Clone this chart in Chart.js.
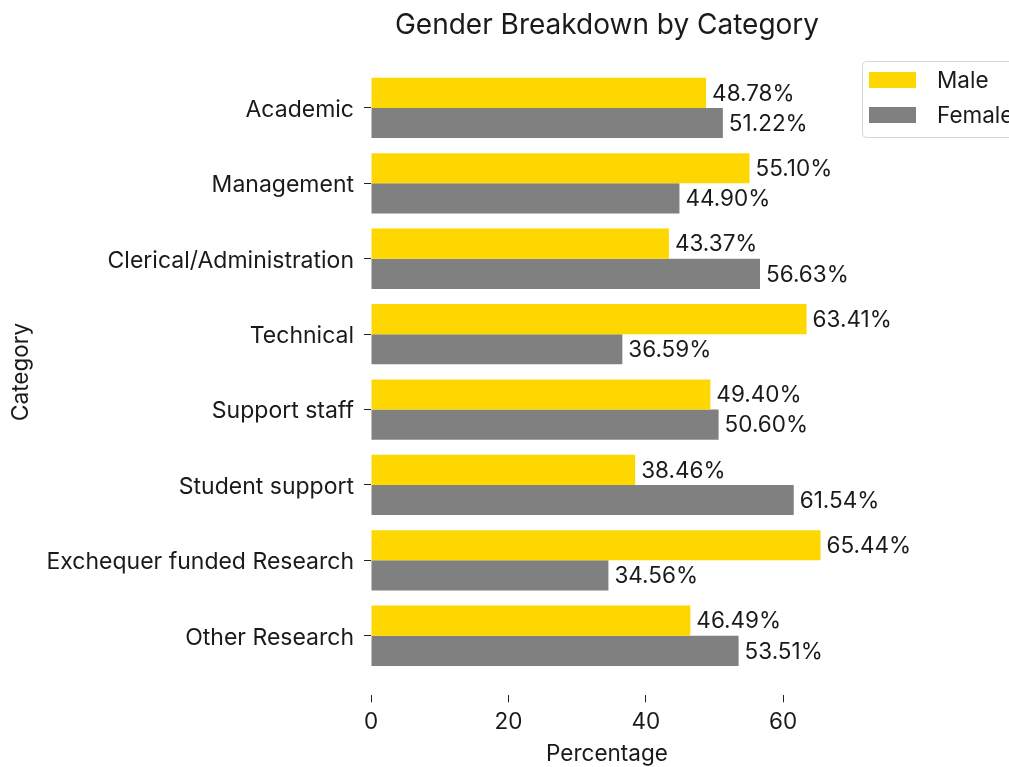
<!DOCTYPE html>
<html>
<head>
<meta charset="utf-8">
<script src="https://cdn.jsdelivr.net/npm/chart.js@4.4.0/dist/chart.umd.min.js"></script>
<style>
  html, body { margin: 0; padding: 0; background: #fff; }
  #wrap { width: 1009px; height: 767px; }
</style>
</head>
<body>
<div id="wrap"><canvas id="genderChart" width="1009" height="767"></canvas></div>
<script>
const categorias = ['Academic', 'Management', 'Clerical/Administration', 'Technical',
    'Support staff', 'Student support', 'Exchequer funded Research', 'Other Research'];
const hombres = [48.78, 55.10, 43.37, 63.41, 49.40, 38.46, 65.44, 46.49];
const mujeres = [51.22, 44.90, 56.63, 36.59, 50.60, 61.54, 34.56, 53.51];
const xTicks = [0, 20, 40, 60];

const FUENTE = 'Inter, "DejaVu Sans", sans-serif';
const TAM = 22.5;
const TITULO = 'Gender Breakdown by Category';

// título centrado sobre el área del gráfico (no sobre todo el lienzo)
const tituloCentrado = {
    id: 'tituloCentrado',
    afterDraw(chart) {
        const { ctx, chartArea } = chart;
        ctx.save();
        ctx.font = `28px ${FUENTE}`;
        ctx.fillStyle = '#1a1a1a';
        ctx.textAlign = 'center';
        ctx.textBaseline = 'middle';
        ctx.fillText(TITULO, (chartArea.left + chartArea.right) / 2, 26);
        ctx.restore();
    }
};

// etiquetas de valor al final de cada barra
const etiquetasBarras = {
    id: 'etiquetasBarras',
    afterDatasetsDraw(chart) {
        const ctx = chart.ctx;
        ctx.save();
        ctx.font = `${TAM}px ${FUENTE}`;
        ctx.fillStyle = '#1a1a1a';
        ctx.textBaseline = 'middle';
        ctx.textAlign = 'left';
        chart.data.datasets.forEach((ds, i) => {
            chart.getDatasetMeta(i).data.forEach((bar, j) => {
                ctx.fillText(ds.data[j].x.toFixed(2) + '%', bar.x + 6, bar.y + 1);
            });
        });
        ctx.restore();
    }
};

// leyenda estilo matplotlib, fuera del área (se corta en el borde)
const leyenda = {
    id: 'leyenda',
    afterDraw(chart) {
        const ctx = chart.ctx;
        const x = 862, y = 61, w = 200, h = 76;
        ctx.save();
        ctx.beginPath();
        ctx.roundRect(x + 0.5, y + 0.5, w, h, 4);
        ctx.fillStyle = 'rgba(255,255,255,0.8)';
        ctx.fill();
        ctx.strokeStyle = '#d6d6d6';
        ctx.lineWidth = 1;
        ctx.stroke();
        ctx.font = `${TAM}px ${FUENTE}`;
        ctx.textBaseline = 'middle';
        chart.data.datasets.forEach((ds, i) => {
            const fy = y + 11 + i * 35;
            ctx.fillStyle = ds.backgroundColor;
            ctx.fillRect(x + 7, fy, 47, 16);
            ctx.fillStyle = '#1a1a1a';
            ctx.fillText(ds.label, x + 75, fy + 9);
        });
        ctx.restore();
    }
};

new Chart(document.getElementById('genderChart'), {
    type: 'bar',
    data: {
        datasets: [
            { label: 'Male', data: hombres.map((v, i) => ({ x: v, y: i })), backgroundColor: '#FFD700' },
            { label: 'Female', data: mujeres.map((v, i) => ({ x: v, y: i })), backgroundColor: '#808080' }
        ]
    },
    options: {
        indexAxis: 'y',
        responsive: false,
        animation: false,
        devicePixelRatio: 1,
        categoryPercentage: 0.8,
        barPercentage: 1,
        layout: { padding: { top: 48.4, right: 166, bottom: 0, left: 0 } },
        plugins: {
            legend: { display: false },
            tooltip: { enabled: false },
            title: { display: false }
        },
        scales: {
            x: {
                type: 'linear',
                min: 0,
                max: 68.71,
                afterBuildTicks: s => { s.ticks = xTicks.map(v => ({ value: v })); },
                afterFit: s => { s.height = 71.7; },
                border: { display: false },
                grid: { drawOnChartArea: false, drawTicks: true, tickLength: 7, tickColor: '#222' },
                ticks: { color: '#1a1a1a', font: { family: FUENTE, size: TAM }, padding: 6 },
                title: {
                    display: true, text: 'Percentage', color: '#1a1a1a',
                    font: { family: FUENTE, size: TAM }, padding: { top: 0, bottom: -1 }
                }
            },
            y: {
                type: 'linear',
                offset: false,
                min: -0.79,
                max: 7.79,
                reverse: true,
                afterBuildTicks: s => { s.ticks = categorias.map((_, i) => ({ value: i })); },
                afterFit: s => { s.width = 371; },
                border: { display: false },
                grid: { offset: false, drawOnChartArea: false, drawTicks: true, tickLength: 7, tickColor: '#222' },
                ticks: {
                    color: '#1a1a1a', font: { family: FUENTE, size: 23 }, padding: 10,
                    labelOffset: 2,
                    callback: v => categorias[v]
                },
                title: {
                    display: true, text: 'Category', color: '#1a1a1a',
                    font: { family: FUENTE, size: TAM }, padding: { top: 8, bottom: 0 }
                }
            }
        }
    },
    plugins: [etiquetasBarras, leyenda, tituloCentrado]
});
</script>
</body>
</html>
